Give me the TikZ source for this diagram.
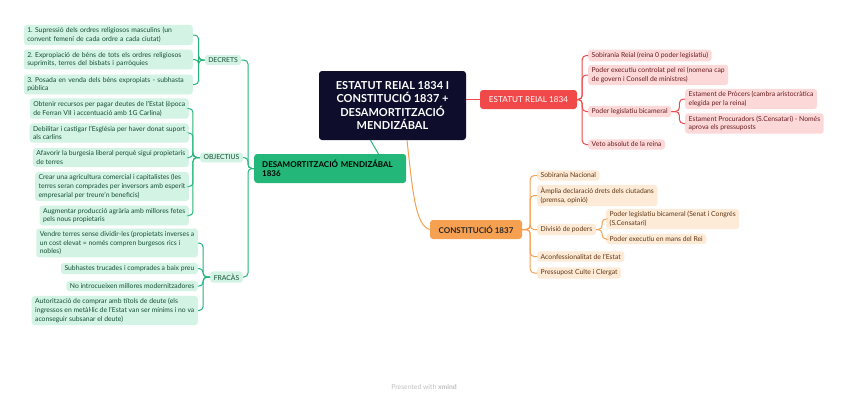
\documentclass[tikz,border=0pt]{standalone}
\usepackage{fontspec}
\setmainfont{Lato}
\usepackage{tikz}
\usetikzlibrary{calc}
\frenchspacing
\definecolor{rootc}{RGB}{14,14,44}
\definecolor{gmainc}{RGB}{35,184,121}
\definecolor{gfill}{RGB}{211,243,228}
\definecolor{gtext}{RGB}{22,78,52}
\definecolor{rmainc}{RGB}{241,72,74}
\definecolor{rfill}{RGB}{252,216,216}
\definecolor{rtext}{RGB}{105,28,30}
\definecolor{omainc}{RGB}{246,161,82}
\definecolor{ofill}{RGB}{253,234,215}
\definecolor{otext}{RGB}{96,54,18}
\newcommand{\leaffont}{\fontsize{6.8}{8.8}\selectfont}
\tikzset{
  box/.style={rounded corners=3pt, inner xsep=3.5pt, inner ysep=2.5pt, align=left, font=\leaffont},
  gleaf/.style={box, fill=gfill, text=gtext},
  rleaf/.style={box, fill=rfill, text=rtext},
  oleaf/.style={box, fill=ofill, text=otext},
  link/.style={line width=1pt, rounded corners=4pt},
  gline/.style={link, draw=gmainc},
  rline/.style={link, draw=rmainc},
  oline/.style={link, draw=omainc},
}
\begin{document}
\begin{tikzpicture}[x=1pt,y=-1pt]
  \fill[white] (0,0) rectangle (848,400);
  \useasboundingbox (0,0) rectangle (848,400);
  % central topic
  \node[fill=rootc, text=white, rounded corners=3pt, minimum width=147pt, minimum height=69pt,
        align=center, font=\fontsize{11}{13.3}\selectfont\bfseries] (root) at (392.5,105.5)
        {ESTATUT REIAL 1834 I\\CONSTITUCIÓ 1837 +\\DESAMORTITZACIÓ\\MENDIZÁBAL};
  % main branches
  \node[fill=gmainc, text=black, rounded corners=3pt, anchor=west, text width=136pt, inner xsep=8pt,
        minimum height=29pt, align=left, font=\fontsize{8}{9.5}\selectfont\bfseries] (desam) at (254,168.5)
        {DESAMORTITZACIÓ MENDIZÁBAL\\1836};
  \node[fill=rmainc, text=white, rounded corners=3pt, minimum width=97pt, minimum height=19pt,
        font=\fontsize{8.2}{9}\selectfont] (estatut) at (528.5,99.5) {ESTATUT REIAL 1834};
  \node[fill=omainc, text=black!85, rounded corners=3pt, minimum width=92pt, minimum height=19pt,
        font=\fontsize{8}{9}\selectfont\bfseries] (const) at (476,229.5) {CONSTITUCIÓ 1837};
  \draw[gline] ($(root.south)+(-22,0)$) -- ($(desam.north east)+(-28,0)$);
  \draw[rline] (root.east |- estatut.west) -- (estatut.west);
  \draw[oline] ($(root.south)+(14.5,0)$) .. controls +(6,55) and +(-14,-4) .. (const.west);

  % desamortitzacio: branch labels
  \node[gleaf, align=center] (decrets) at (223,60) {DECRETS};
  \node[gleaf, align=center] (objectius) at (221.5,157.5) {OBJECTIUS};
  \node[gleaf, align=center] (fracas) at (226.5,277) {FRACÀS};
  \foreach \b in {decrets,objectius,fracas}
    \draw[gline] (desam.west) -- ++(-6,0) |- (\b.east);

  % decrets
  \node[gleaf, anchor=east, text width=162pt] (d1) at (193,35) {1. Supressió dels ordres religiosos masculins (un\\convent femení de cada ordre a cada ciutat)};
  \node[gleaf, anchor=east, text width=162pt] (d2) at (193,59.5) {2. Expropiació de béns de tots els ordres religiosos\\suprimits, terres del bisbats i parròquies};
  \node[gleaf, anchor=east, text width=162pt] (d3) at (193,84.5) {3. Posada en venda dels béns expropiats - subhasta\\pública};
  \foreach \c in {d1,d2,d3}
    \draw[gline] (decrets.west) -- ++(-6,0) |- (\c.east);

  % objectius
  \node[gleaf, anchor=east] (ob1) at (189,108.5) {Obtenir recursos per pagar deutes de l'Estat (època\\de Ferran VII i accentuació amb 1G Carlina)};
  \node[gleaf, anchor=east] (ob2) at (189,133) {Debilitar i castigar l'Església per haver donat suport\\als carlins};
  \node[gleaf, anchor=east] (ob3) at (189,157.5) {Afavorir la burgesia liberal perquè sigui propietaris\\de terres};
  \node[gleaf, anchor=east] (ob4) at (189,186.5) {Crear una agricultura comercial i capitalistes (les\\terres seran comprades per inversors amb esperit\\empresarial per treure'n beneficis)};
  \node[gleaf, anchor=east] (ob5) at (189,215.5) {Augmentar producció agrària amb millores fetes\\pels nous propietaris};
  \foreach \c in {ob1,ob2,ob3,ob4,ob5}
    \draw[gline] (objectius.west) -- ++(-7,0) |- (\c.east);

  % fracas
  \node[gleaf, anchor=east] (f1) at (198,243) {Vendre terres sense dividir-les (propietats inverses a\\un cost elevat = només compren burgesos rics i\\nobles)};
  \node[gleaf, anchor=east] (f2) at (198,268.5) {Subhastes trucades i comprades a baix preu};
  \node[gleaf, anchor=east] (f3) at (198,286) {No introcueixen millores modernitzadores};
  \node[gleaf, anchor=east] (f4) at (198,310.5) {Autorització de comprar amb títols de deute (els\\ingressos en metàl·lic de l'Estat van ser mínims i no va\\aconseguir subsanar el deute)};
  \foreach \c in {f1,f2,f3,f4}
    \draw[gline] (fracas.west) -- ++(-7,0) |- (\c.east);

  % estatut reial
  \node[rleaf, anchor=west] (r1) at (588,55.5) {Sobirania Reial (reina 0 poder legislatiu)};
  \node[rleaf, anchor=west] (r2) at (588,75) {Poder executiu controlat pel rei (nomena cap\\de govern i Consell de ministres)};
  \node[rleaf, anchor=west] (r3) at (588,111.5) {Poder legislatiu bicameral};
  \node[rleaf, anchor=west] (r4) at (588,144.5) {Veto absolut de la reina};
  \foreach \c in {r1,r2,r3,r4}
    \draw[rline] (estatut.east) -- ++(5,0) |- (\c.west);
  \node[rleaf, anchor=west] (ra) at (685,99) {Estament de Pròcers (cambra aristocràtica\\elegida per la reina)};
  \node[rleaf, anchor=west] (rb) at (685,123.5) {Estament Procuradors (S.Censatari) - Només\\aprova els pressuposts};
  \foreach \c in {ra,rb}
    \draw[rline] (r3.east) -- ++(8,0) |- (\c.west);

  % constitucio
  \node[oleaf, anchor=west] (o1) at (537,175.5) {Sobirania Nacional};
  \node[oleaf, anchor=west] (o2) at (537,195.5) {Àmplia declaració drets dels ciutadans\\(premsa, opinió)};
  \node[oleaf, anchor=west] (o3) at (537,229.5) {Divisió de poders};
  \node[oleaf, anchor=west] (o4) at (537,256.5) {Aconfessionalitat de l'Estat};
  \node[oleaf, anchor=west] (o5) at (537,273) {Pressupost Culte i Clergat};
  \foreach \c in {o1,o2,o3,o4,o5}
    \draw[oline] (const.east) -- ++(8,0) |- (\c.west);
  \node[oleaf, anchor=west] (oa) at (606,219) {Poder legislatiu bicameral (Senat i Congrés\\(S.Censatari)};
  \node[oleaf, anchor=west] (ob) at (606,239) {Poder executiu en mans del Rei};
  \foreach \c in {oa,ob}
    \draw[oline] (o3.east) -- ++(6,0) |- (\c.west);

  % footer
  \node[text=black!25, font=\fontsize{6.8}{8}\selectfont] (footer) at (424,387) {Presented with \textbf{xmind}};
\end{tikzpicture}
\end{document}
